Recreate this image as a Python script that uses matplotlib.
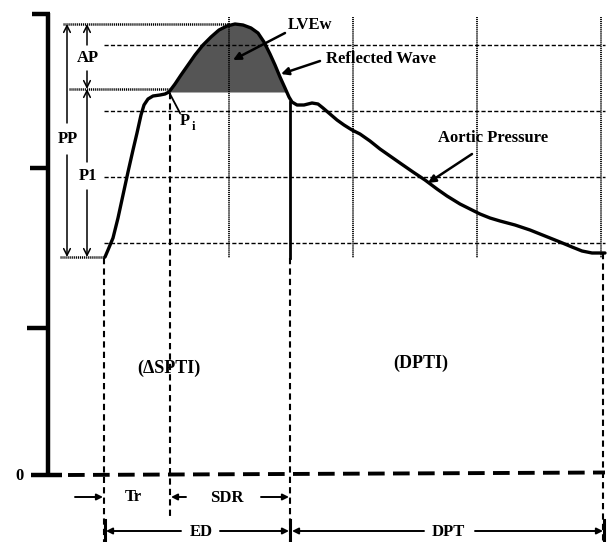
import matplotlib
matplotlib.use("Agg")
import matplotlib.pyplot as plt
import numpy as np

plt.rcParams['lines.scale_dashes'] = False
plt.rcParams['font.family'] = ['Liberation Serif', 'DejaVu Serif']

# ---- data (pixel-space schematic) ----
curve_x = [105, 108, 113, 118, 123, 128, 133, 137, 141, 144, 148, 153, 160, 165, 169,
           175, 181, 188, 195, 203, 211, 219, 227, 235, 243, 251, 258, 264, 270, 275,
           280, 285, 289, 292, 297, 304, 312, 318, 323, 330, 337, 344, 352, 360, 370,
           380, 390, 400, 413, 425, 437, 447, 460, 470, 480, 490, 500, 515, 530, 545,
           560, 572, 582, 592, 605]
curve_y = [257, 250, 238, 218, 195, 172, 150, 133, 115, 105, 99, 96, 95, 94, 92,
           84, 75, 65, 55, 45, 37, 30, 26, 24, 25, 28, 33, 42, 54, 65,
           77, 88, 97, 102, 105, 105, 103, 104, 108, 114, 120, 125, 130, 134, 141,
           149, 156, 163, 172, 180, 189, 196, 204, 209, 214, 218, 221, 225, 230, 236,
           242, 247, 251, 253, 253]
fill_level = 92
grid_h_dashed = [45, 111, 177, 243]
grid_v_dotted = [229, 353, 477, 601]
axis_ticks = [14, 168, 328, 475]

fig = plt.figure(figsize=(6.08, 5.42), dpi=100)
ax = fig.add_axes([0, 0, 1, 1])
ax.set_xlim(0, 608)
ax.set_ylim(542, 0)
ax.axis('off')

K = 'black'
fs = 12
tkw = dict(fontsize=fs, fontweight='bold', ha='center', va='center', color=K)

# grid: horizontal dashed
for y in grid_h_dashed:
    ax.plot([104, 605], [y, y], color=K, lw=1.0, dashes=(3, 1.6))
# grid: vertical dotted
for x in grid_v_dotted:
    ax.plot([x, x], [17, 258], color=K, lw=1.3, dashes=(0.8, 0.6))
# horizontal dotted reference lines
ax.plot([63, 229], [24, 24], color=K, lw=1.8, dashes=(0.8, 0.6))
ax.plot([69, 169], [89, 89], color=K, lw=1.8, dashes=(0.8, 0.6))
ax.plot([60, 105], [257, 257], color=K, lw=1.8, dashes=(0.8, 0.6))

# vertical dashed lines
vd = dict(color=K, lw=1.5, dashes=(4.5, 3))
ax.plot([104, 104], [258, 542], **vd)
ax.plot([170, 170], [93, 520], **vd)
ax.plot([290, 290], [102, 258], color=K, lw=2.0)
ax.plot([290, 290], [258, 542], **vd)
ax.plot([603, 603], [253, 542], **vd)

# fill (LVEw)
cx = np.array(curve_x, float)
cy = np.array(curve_y, float)
mask = (cx >= 169) & (cx <= 289)
ax.fill_between(cx, cy, fill_level, where=mask & (cy <= fill_level + 0.5),
                interpolate=True, color='#555555', lw=0)

# curve
ax.plot(curve_x, curve_y, color=K, lw=2.4, solid_capstyle='round', solid_joinstyle='round')

# left axis
ax.plot([48, 48], [13, 476], color=K, lw=3.2, solid_capstyle='butt')
ax.plot([32, 49.5], [14, 14], color=K, lw=3.2, solid_capstyle='butt')
ax.plot([30, 48], [168, 168], color=K, lw=3.2, solid_capstyle='butt')
ax.plot([27, 48], [328, 328], color=K, lw=3.2, solid_capstyle='butt')
ax.plot([31, 62], [475, 475], color=K, lw=3.2, solid_capstyle='butt')
ax.plot([68, 605], [475, 472.5], color=K, lw=2.8, dashes=(12, 6))
ax.text(20, 476, '0', **tkw)

# PP / AP / P1 arrows
akw = dict(arrowstyle='->', lw=1.1, color=K, mutation_scale=12, shrinkA=0, shrinkB=0)
def vlabel(x, y0, y1, ym, label, gap):
    ax.annotate('', xy=(x, y0), xytext=(x, ym - gap), arrowprops=akw)
    ax.annotate('', xy=(x, y1), xytext=(x, ym + gap), arrowprops=akw)
    ax.text(x + 1, ym, label, **tkw)
vlabel(67, 24, 257, 139, 'PP', 16)
vlabel(87, 24, 89, 58, 'AP', 13)
vlabel(87, 89, 257, 176, 'P1', 14)

# Pi
ax.plot([170, 180], [94, 113], color=K, lw=1.3)
ax.text(185, 121, 'P', **tkw)
ax.text(193, 127, 'i', fontsize=9, fontweight='bold', ha='center', va='center', color=K)

# labels with arrows
pkw = dict(arrowstyle='-|>', lw=1.8, color=K, mutation_scale=11, shrinkA=0, shrinkB=0)
ax.annotate('', xy=(233, 60), xytext=(285, 33), arrowprops=pkw)
ax.text(310, 25, 'LVEw', **tkw)
ax.annotate('', xy=(281, 74), xytext=(320, 61), arrowprops=pkw)
ax.text(381, 59, 'Reflected Wave', **tkw)
ax.annotate('', xy=(428, 183), xytext=(472, 154), arrowprops=pkw)
ax.text(493, 138, 'Aortic Pressure', **tkw)

ax.text(169, 368, '(ΔSPTI)', fontsize=13, fontweight='bold', ha='center', va='center', color=K)
ax.text(421, 363, '(DPTI)', fontsize=13, fontweight='bold', ha='center', va='center', color=K)

# bottom intervals
bkw = dict(arrowstyle='-|>', lw=1.4, color=K, mutation_scale=9, shrinkA=0, shrinkB=0)
ax.annotate('', xy=(103, 497), xytext=(75, 497), arrowprops=bkw)
ax.text(133, 497, 'Tr', **tkw)
ax.annotate('', xy=(171, 497), xytext=(186, 497), arrowprops=bkw)
ax.text(227, 498, 'SDR', **tkw)
ax.annotate('', xy=(289, 497), xytext=(261, 497), arrowprops=bkw)

for x in [105, 290, 604]:
    ax.plot([x, x], [520, 542], color=K, lw=2.2)
ax.annotate('', xy=(106, 531), xytext=(181, 531), arrowprops=bkw)
ax.text(201, 532, 'ED', **tkw)
ax.annotate('', xy=(289, 531), xytext=(220, 531), arrowprops=bkw)
ax.annotate('', xy=(292, 531), xytext=(424, 531), arrowprops=bkw)
ax.text(448, 532, 'DPT', **tkw)
ax.annotate('', xy=(603, 531), xytext=(475, 531), arrowprops=bkw)

fig.savefig('out.png', dpi=100, facecolor='white')
